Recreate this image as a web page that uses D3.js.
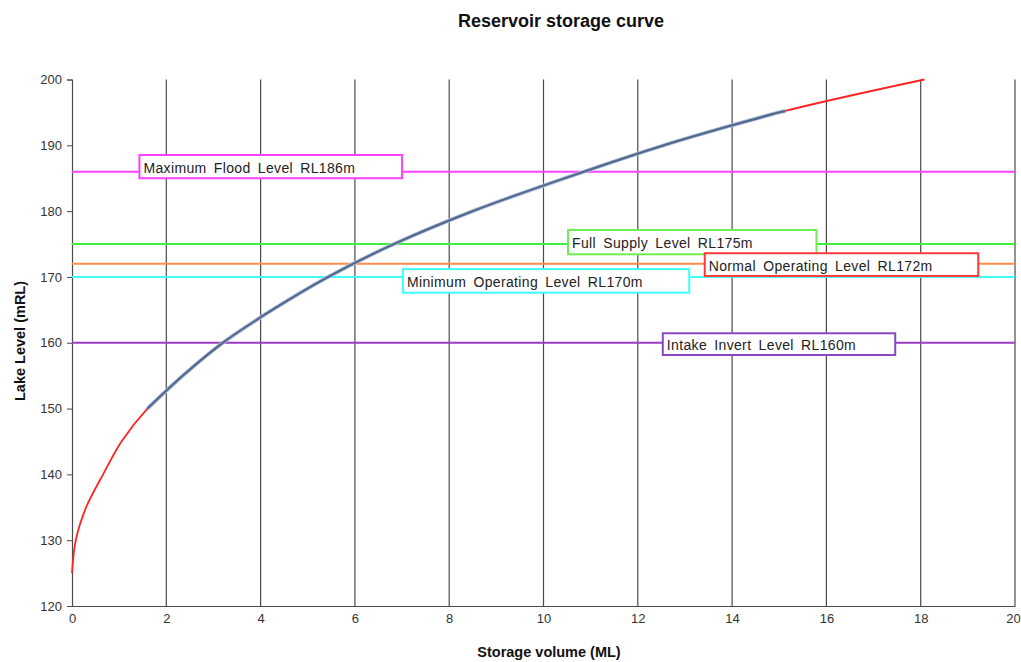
<!DOCTYPE html>
<html><head><meta charset="utf-8">
<script src="https://cdn.jsdelivr.net/npm/d3@7"></script>
<style>body{margin:0;background:#fff;} text{font-family:"Liberation Sans",Arial,sans-serif;}</style>
</head><body>
<svg id="c" width="1021" height="662"></svg>
<script>
// Storage curve (red): lake level (mRL) and storage volume (ML)
const redLevel  = [125, 130, 135, 140, 145, 150, 155, 160, 165, 170, 175, 180, 185, 190, 195, 200];
const redVolume = [0, 0.08, 0.3, 0.66, 1.05, 1.6, 2.35, 3.2, 4.25, 5.43, 6.83, 8.5, 10.45, 12.55, 15.0, 18.08];
// Fitted curve (blue)
const blueLevel  = [150, 155, 160, 165, 170, 175, 180, 185, 190, 195, 195.2];
const blueVolume = [1.6, 2.35, 3.2, 4.25, 5.43, 6.83, 8.5, 10.45, 12.55, 15.0, 15.13];
// Reference levels
const levelNames  = ["Maximum Flood Level RL186m", "Full Supply Level RL175m", "Normal Operating Level RL172m", "Minimum Operating Level RL170m", "Intake Invert Level RL160m"];
const levelValues = [186, 175, 172, 170, 160];
const levelColors = ["#ff40ff", "#40ee40", "#ff8c4a", "#40ffff", "#9a3cbf"];
const labelBoxColors = ["#ff40ff", "#70ee50", "#ff3838", "#40ffff", "#8a48c0"];
const xTicks = [0, 2, 4, 6, 8, 10, 12, 14, 16, 18, 20];
const yTicks = [120, 130, 140, 150, 160, 170, 180, 190, 200];

const svg = d3.select("#c");
const L = 72, R = 1015, T = 79.5, B = 606;
const x = d3.scaleLinear().domain([0, 20]).range([L, R]);
const y = d3.scaleLinear().domain([120, 200]).range([B, T]);

// vertical gridlines
svg.append("g").selectAll("line").data(xTicks.filter(d => d > 0)).join("line")
  .attr("x1", d => x(d)).attr("x2", d => x(d)).attr("y1", y(200)).attr("y2", y(120))
  .attr("stroke", "#4a4a4a").attr("stroke-width", 1.2);

// axes
const yAxis = svg.append("g").attr("transform", `translate(${L},0)`)
  .call(d3.axisLeft(y).tickValues(yTicks).tickSize(5).tickPadding(5));
const xAxis = svg.append("g").attr("transform", `translate(0,${B})`)
  .call(d3.axisBottom(x).tickValues(xTicks).tickSize(0).tickPadding(8));
[yAxis, xAxis].forEach(a => {
  a.select(".domain").attr("stroke", "#4a4a4a").attr("stroke-width", 1.2);
  a.selectAll(".tick line").attr("stroke", "#4a4a4a");
  a.selectAll("text").attr("font-size", 13).attr("fill", "#333").attr("font-family", '"Liberation Sans",Arial,sans-serif');
});
xAxis.selectAll(".tick text").filter(d => d === 20).attr("dx", -2);

// level lines
svg.append("g").selectAll("line").data(levelValues).join("line")
  .attr("x1", x(0)).attr("x2", x(20)).attr("y1", d => y(d)).attr("y2", d => y(d))
  .attr("stroke", (d, i) => levelColors[i]).attr("stroke-width", 2);

// curves
const line = d3.line().x(d => x(d[0])).y(d => y(d[1])).curve(d3.curveCatmullRom.alpha(0.5));
svg.append("path").datum(redVolume.map((v, i) => [v, redLevel[i]]))
  .attr("d", line).attr("fill", "none").attr("stroke", "#ff2424").attr("stroke-width", 1.8);
const blueData = blueVolume.map((v, i) => [v, blueLevel[i]]);
svg.append("path").datum(blueData)
  .attr("d", line).attr("fill", "none").attr("stroke", "#b4c6e0").attr("stroke-width", 4);
svg.append("path").datum(blueData)
  .attr("d", line).attr("fill", "none").attr("stroke", "#56698f").attr("stroke-width", 2.3);

// label boxes (positions in data units)
const boxX0 = [1.43, 10.52, 13.42, 7.02, 12.53];
const boxX1 = [7.0, 15.79, 19.22, 13.09, 17.46];
const boxTop = [188.53, 177.13, 173.6, 171.2, 161.44];
const boxBot = [185.0, 173.44, 170.15, 167.6, 158.14];
const g = svg.append("g");
levelNames.forEach((name, i) => {
  g.append("rect").attr("x", x(boxX0[i])).attr("y", y(boxTop[i]))
    .attr("width", x(boxX1[i]) - x(boxX0[i])).attr("height", y(boxBot[i]) - y(boxTop[i]))
    .attr("fill", "#fff").attr("stroke", labelBoxColors[i]).attr("stroke-width", 2);
  g.append("text").attr("x", x(boxX0[i]) + 4).attr("y", (y(boxTop[i]) + y(boxBot[i])) / 2 + 6)
    .attr("font-size", 14).attr("fill", "#222").attr("letter-spacing", 0.35).attr("word-spacing", 3).text(name);
});

// titles
svg.append("text").attr("x", 561).attr("y", 27).attr("text-anchor", "middle")
  .attr("font-size", 18).attr("font-weight", "bold").attr("fill", "#111").text("Reservoir storage curve");
svg.append("text").attr("x", 549).attr("y", 657).attr("text-anchor", "middle")
  .attr("font-size", 14.5).attr("font-weight", "bold").attr("fill", "#111").text("Storage volume (ML)");
svg.append("text").attr("transform", "translate(25,341) rotate(-90)").attr("text-anchor", "middle")
  .attr("font-size", 14.5).attr("font-weight", "bold").attr("fill", "#111").text("Lake Level (mRL)");
</script>
</body></html>
